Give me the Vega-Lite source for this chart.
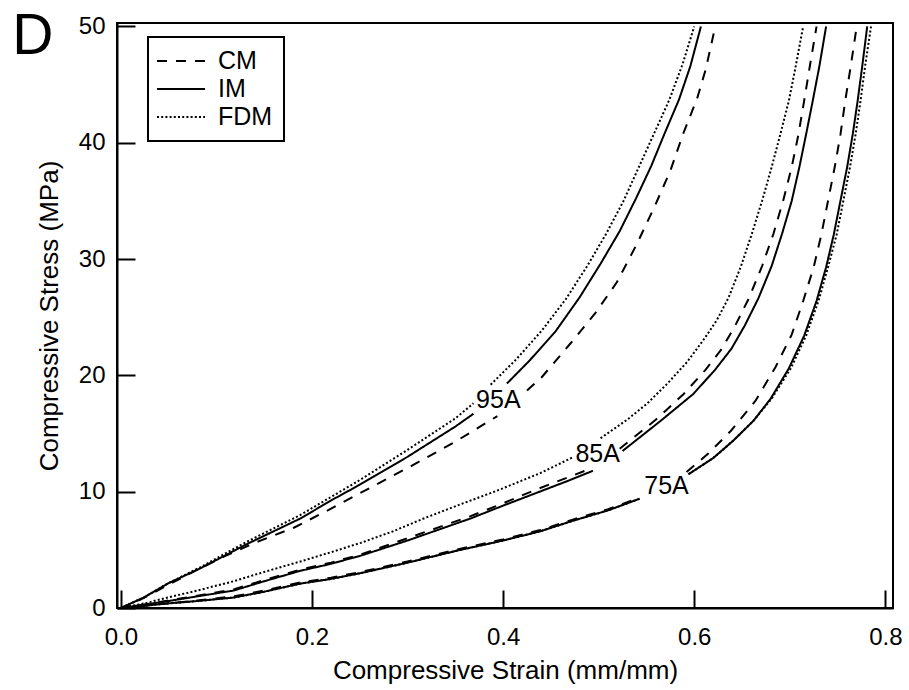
{
  "$schema": "https://vega.github.io/schema/vega-lite/v6.json",
  "width": 776,
  "height": 585,
  "autosize": {"type": "none"},
  "padding": {"left": 117, "top": 23, "right": 16, "bottom": 82},
  "background": "white",
  "config": {
    "font": "Liberation Sans",
    "view": {"stroke": "black", "strokeWidth": 2},
    "axis": {
      "domainColor": "black", "domainWidth": 2,
      "tickColor": "black", "tickWidth": 2, "tickSize": -18,
      "labelColor": "black", "labelFontSize": 24, "labelFont": "Liberation Sans",
      "titleColor": "black", "titleFontSize": 26, "titleFontWeight": "normal", "titleFont": "Liberation Sans",
      "grid": false, "labelFlush": false, "labelOverlap": false
    }
  },
  "datasets": {
    "curves": [
      {"g":"95A","m":"CM","s":"a","x":0,"y":0},{"g":"95A","m":"CM","s":"a","x":0.02,"y":0.7},{"g":"95A","m":"CM","s":"a","x":0.05,"y":2.0},{"g":"95A","m":"CM","s":"a","x":0.08,"y":3.3},{"g":"95A","m":"CM","s":"a","x":0.11,"y":4.5},{"g":"95A","m":"CM","s":"a","x":0.14,"y":5.6},{"g":"95A","m":"CM","s":"a","x":0.181,"y":6.9},{"g":"95A","m":"CM","s":"a","x":0.219,"y":8.5},{"g":"95A","m":"CM","s":"a","x":0.26,"y":10.3},{"g":"95A","m":"CM","s":"a","x":0.306,"y":12.3},{"g":"95A","m":"CM","s":"a","x":0.35,"y":14.3},{"g":"95A","m":"CM","s":"a","x":0.394,"y":16.5},
      {"g":"95A","m":"CM","s":"b","x":0.425,"y":18.7},{"g":"95A","m":"CM","s":"b","x":0.44,"y":19.8},{"g":"95A","m":"CM","s":"b","x":0.47,"y":22.7},{"g":"95A","m":"CM","s":"b","x":0.496,"y":25.3},{"g":"95A","m":"CM","s":"b","x":0.519,"y":28.0},{"g":"95A","m":"CM","s":"b","x":0.54,"y":31.3},{"g":"95A","m":"CM","s":"b","x":0.559,"y":34.6},{"g":"95A","m":"CM","s":"b","x":0.575,"y":37.6},{"g":"95A","m":"CM","s":"b","x":0.589,"y":40.9},{"g":"95A","m":"CM","s":"b","x":0.603,"y":43.8},{"g":"95A","m":"CM","s":"b","x":0.612,"y":46.3},{"g":"95A","m":"CM","s":"b","x":0.622,"y":50.0},
      {"g":"95A","m":"IM","s":"a","x":0,"y":0},{"g":"95A","m":"IM","s":"a","x":0.024,"y":0.9},{"g":"95A","m":"IM","s":"a","x":0.049,"y":2.1},{"g":"95A","m":"IM","s":"a","x":0.083,"y":3.4},{"g":"95A","m":"IM","s":"a","x":0.132,"y":5.5},{"g":"95A","m":"IM","s":"a","x":0.188,"y":7.7},{"g":"95A","m":"IM","s":"a","x":0.219,"y":9.2},{"g":"95A","m":"IM","s":"a","x":0.25,"y":10.6},{"g":"95A","m":"IM","s":"a","x":0.3,"y":13.0},{"g":"95A","m":"IM","s":"a","x":0.35,"y":15.6},{"g":"95A","m":"IM","s":"a","x":0.369,"y":16.7},
      {"g":"95A","m":"IM","s":"b","x":0.404,"y":19.3},{"g":"95A","m":"IM","s":"b","x":0.428,"y":21.3},{"g":"95A","m":"IM","s":"b","x":0.455,"y":23.8},{"g":"95A","m":"IM","s":"b","x":0.48,"y":26.7},{"g":"95A","m":"IM","s":"b","x":0.502,"y":29.6},{"g":"95A","m":"IM","s":"b","x":0.522,"y":32.4},{"g":"95A","m":"IM","s":"b","x":0.539,"y":35.2},{"g":"95A","m":"IM","s":"b","x":0.555,"y":38.0},{"g":"95A","m":"IM","s":"b","x":0.569,"y":40.8},{"g":"95A","m":"IM","s":"b","x":0.584,"y":43.7},{"g":"95A","m":"IM","s":"b","x":0.596,"y":46.6},{"g":"95A","m":"IM","s":"b","x":0.607,"y":50.0},
      {"g":"95A","m":"FDM","s":"a","x":0,"y":0},{"g":"95A","m":"FDM","s":"a","x":0.024,"y":0.9},{"g":"95A","m":"FDM","s":"a","x":0.049,"y":2.1},{"g":"95A","m":"FDM","s":"a","x":0.083,"y":3.5},{"g":"95A","m":"FDM","s":"a","x":0.132,"y":5.7},{"g":"95A","m":"FDM","s":"a","x":0.188,"y":8.0},{"g":"95A","m":"FDM","s":"a","x":0.219,"y":9.5},{"g":"95A","m":"FDM","s":"a","x":0.25,"y":11.0},{"g":"95A","m":"FDM","s":"a","x":0.3,"y":13.6},{"g":"95A","m":"FDM","s":"a","x":0.35,"y":16.3},{"g":"95A","m":"FDM","s":"a","x":0.369,"y":17.6},
      {"g":"95A","m":"FDM","s":"b","x":0.387,"y":19.2},{"g":"95A","m":"FDM","s":"b","x":0.414,"y":21.4},{"g":"95A","m":"FDM","s":"b","x":0.441,"y":23.9},{"g":"95A","m":"FDM","s":"b","x":0.466,"y":26.6},{"g":"95A","m":"FDM","s":"b","x":0.488,"y":29.4},{"g":"95A","m":"FDM","s":"b","x":0.508,"y":32.2},{"g":"95A","m":"FDM","s":"b","x":0.526,"y":35.0},{"g":"95A","m":"FDM","s":"b","x":0.542,"y":37.9},{"g":"95A","m":"FDM","s":"b","x":0.558,"y":40.8},{"g":"95A","m":"FDM","s":"b","x":0.574,"y":43.7},{"g":"95A","m":"FDM","s":"b","x":0.588,"y":46.8},{"g":"95A","m":"FDM","s":"b","x":0.6,"y":50.0},

      {"g":"85A","m":"CM","s":"a","x":0,"y":0},{"g":"85A","m":"CM","s":"a","x":0.025,"y":0.3},{"g":"85A","m":"CM","s":"a","x":0.05,"y":0.65},{"g":"85A","m":"CM","s":"a","x":0.08,"y":1.05},{"g":"85A","m":"CM","s":"a","x":0.118,"y":1.6},{"g":"85A","m":"CM","s":"a","x":0.15,"y":2.4},{"g":"85A","m":"CM","s":"a","x":0.188,"y":3.3},{"g":"85A","m":"CM","s":"a","x":0.22,"y":3.9},{"g":"85A","m":"CM","s":"a","x":0.251,"y":4.6},{"g":"85A","m":"CM","s":"a","x":0.3,"y":6.0},{"g":"85A","m":"CM","s":"a","x":0.366,"y":7.9},{"g":"85A","m":"CM","s":"a","x":0.4,"y":9.0},{"g":"85A","m":"CM","s":"a","x":0.435,"y":10.2},{"g":"85A","m":"CM","s":"a","x":0.47,"y":11.3},{"g":"85A","m":"CM","s":"a","x":0.492,"y":12.0},
      {"g":"85A","m":"CM","s":"b","x":0.522,"y":13.7},{"g":"85A","m":"CM","s":"b","x":0.56,"y":16.2},{"g":"85A","m":"CM","s":"b","x":0.589,"y":18.4},{"g":"85A","m":"CM","s":"b","x":0.612,"y":20.5},{"g":"85A","m":"CM","s":"b","x":0.629,"y":22.3},{"g":"85A","m":"CM","s":"b","x":0.643,"y":24.3},{"g":"85A","m":"CM","s":"b","x":0.657,"y":26.6},{"g":"85A","m":"CM","s":"b","x":0.671,"y":29.4},{"g":"85A","m":"CM","s":"b","x":0.683,"y":32.2},{"g":"85A","m":"CM","s":"b","x":0.693,"y":35.0},{"g":"85A","m":"CM","s":"b","x":0.702,"y":37.9},{"g":"85A","m":"CM","s":"b","x":0.709,"y":40.7},{"g":"85A","m":"CM","s":"b","x":0.715,"y":43.6},{"g":"85A","m":"CM","s":"b","x":0.721,"y":46.6},{"g":"85A","m":"CM","s":"b","x":0.728,"y":50.0},
      {"g":"85A","m":"IM","s":"a","x":0,"y":0},{"g":"85A","m":"IM","s":"a","x":0.025,"y":0.3},{"g":"85A","m":"IM","s":"a","x":0.05,"y":0.6},{"g":"85A","m":"IM","s":"a","x":0.08,"y":1.0},{"g":"85A","m":"IM","s":"a","x":0.118,"y":1.5},{"g":"85A","m":"IM","s":"a","x":0.15,"y":2.3},{"g":"85A","m":"IM","s":"a","x":0.188,"y":3.2},{"g":"85A","m":"IM","s":"a","x":0.22,"y":3.8},{"g":"85A","m":"IM","s":"a","x":0.251,"y":4.5},{"g":"85A","m":"IM","s":"a","x":0.3,"y":5.8},{"g":"85A","m":"IM","s":"a","x":0.366,"y":7.7},{"g":"85A","m":"IM","s":"a","x":0.4,"y":8.8},{"g":"85A","m":"IM","s":"a","x":0.435,"y":9.9},{"g":"85A","m":"IM","s":"a","x":0.47,"y":11.0},{"g":"85A","m":"IM","s":"a","x":0.494,"y":11.8},
      {"g":"85A","m":"IM","s":"b","x":0.525,"y":13.5},{"g":"85A","m":"IM","s":"b","x":0.565,"y":16.1},{"g":"85A","m":"IM","s":"b","x":0.599,"y":18.4},{"g":"85A","m":"IM","s":"b","x":0.622,"y":20.5},{"g":"85A","m":"IM","s":"b","x":0.639,"y":22.3},{"g":"85A","m":"IM","s":"b","x":0.653,"y":24.3},{"g":"85A","m":"IM","s":"b","x":0.667,"y":26.6},{"g":"85A","m":"IM","s":"b","x":0.681,"y":29.4},{"g":"85A","m":"IM","s":"b","x":0.692,"y":32.2},{"g":"85A","m":"IM","s":"b","x":0.702,"y":35.0},{"g":"85A","m":"IM","s":"b","x":0.71,"y":37.9},{"g":"85A","m":"IM","s":"b","x":0.717,"y":40.7},{"g":"85A","m":"IM","s":"b","x":0.724,"y":43.6},{"g":"85A","m":"IM","s":"b","x":0.731,"y":46.6},{"g":"85A","m":"IM","s":"b","x":0.738,"y":50.0},
      {"g":"85A","m":"FDM","s":"a","x":0,"y":0},{"g":"85A","m":"FDM","s":"a","x":0.025,"y":0.4},{"g":"85A","m":"FDM","s":"a","x":0.049,"y":0.9},{"g":"85A","m":"FDM","s":"a","x":0.08,"y":1.5},{"g":"85A","m":"FDM","s":"a","x":0.118,"y":2.3},{"g":"85A","m":"FDM","s":"a","x":0.15,"y":3.1},{"g":"85A","m":"FDM","s":"a","x":0.188,"y":4.0},{"g":"85A","m":"FDM","s":"a","x":0.22,"y":4.8},{"g":"85A","m":"FDM","s":"a","x":0.251,"y":5.6},{"g":"85A","m":"FDM","s":"a","x":0.285,"y":6.6},{"g":"85A","m":"FDM","s":"a","x":0.317,"y":7.7},{"g":"85A","m":"FDM","s":"a","x":0.355,"y":8.9},{"g":"85A","m":"FDM","s":"a","x":0.394,"y":10.1},{"g":"85A","m":"FDM","s":"a","x":0.439,"y":11.6},{"g":"85A","m":"FDM","s":"a","x":0.474,"y":13.0},
      {"g":"85A","m":"FDM","s":"b","x":0.502,"y":14.6},{"g":"85A","m":"FDM","s":"b","x":0.53,"y":16.2},{"g":"85A","m":"FDM","s":"b","x":0.551,"y":17.6},{"g":"85A","m":"FDM","s":"b","x":0.572,"y":19.3},{"g":"85A","m":"FDM","s":"b","x":0.593,"y":21.2},{"g":"85A","m":"FDM","s":"b","x":0.611,"y":23.2},{"g":"85A","m":"FDM","s":"b","x":0.624,"y":24.8},{"g":"85A","m":"FDM","s":"b","x":0.636,"y":26.7},{"g":"85A","m":"FDM","s":"b","x":0.649,"y":29.4},{"g":"85A","m":"FDM","s":"b","x":0.66,"y":32.1},{"g":"85A","m":"FDM","s":"b","x":0.671,"y":35.0},{"g":"85A","m":"FDM","s":"b","x":0.681,"y":37.9},{"g":"85A","m":"FDM","s":"b","x":0.69,"y":40.7},{"g":"85A","m":"FDM","s":"b","x":0.699,"y":43.6},{"g":"85A","m":"FDM","s":"b","x":0.706,"y":46.5},{"g":"85A","m":"FDM","s":"b","x":0.714,"y":50.0},

      {"g":"75A","m":"CM","s":"a","x":0,"y":0},{"g":"75A","m":"CM","s":"a","x":0.025,"y":0.2},{"g":"75A","m":"CM","s":"a","x":0.05,"y":0.4},{"g":"75A","m":"CM","s":"a","x":0.08,"y":0.65},{"g":"75A","m":"CM","s":"a","x":0.118,"y":1.0},{"g":"75A","m":"CM","s":"a","x":0.15,"y":1.5},{"g":"75A","m":"CM","s":"a","x":0.188,"y":2.2},{"g":"75A","m":"CM","s":"a","x":0.22,"y":2.6},{"g":"75A","m":"CM","s":"a","x":0.251,"y":3.1},{"g":"75A","m":"CM","s":"a","x":0.3,"y":4.0},{"g":"75A","m":"CM","s":"a","x":0.35,"y":5.0},{"g":"75A","m":"CM","s":"a","x":0.4,"y":5.9},{"g":"75A","m":"CM","s":"a","x":0.439,"y":6.7},{"g":"75A","m":"CM","s":"a","x":0.473,"y":7.6},{"g":"75A","m":"CM","s":"a","x":0.51,"y":8.5},{"g":"75A","m":"CM","s":"a","x":0.543,"y":9.5},
      {"g":"75A","m":"CM","s":"b","x":0.592,"y":11.7},{"g":"75A","m":"CM","s":"b","x":0.615,"y":13.3},{"g":"75A","m":"CM","s":"b","x":0.638,"y":15.2},{"g":"75A","m":"CM","s":"b","x":0.664,"y":17.8},{"g":"75A","m":"CM","s":"b","x":0.685,"y":20.7},{"g":"75A","m":"CM","s":"b","x":0.702,"y":23.5},{"g":"75A","m":"CM","s":"b","x":0.714,"y":26.4},{"g":"75A","m":"CM","s":"b","x":0.725,"y":29.3},{"g":"75A","m":"CM","s":"b","x":0.733,"y":32.1},{"g":"75A","m":"CM","s":"b","x":0.74,"y":35.0},{"g":"75A","m":"CM","s":"b","x":0.747,"y":37.9},{"g":"75A","m":"CM","s":"b","x":0.753,"y":40.7},{"g":"75A","m":"CM","s":"b","x":0.758,"y":43.6},{"g":"75A","m":"CM","s":"b","x":0.764,"y":46.7},{"g":"75A","m":"CM","s":"b","x":0.77,"y":50.0},
      {"g":"75A","m":"IM","s":"a","x":0,"y":0},{"g":"75A","m":"IM","s":"a","x":0.025,"y":0.2},{"g":"75A","m":"IM","s":"a","x":0.05,"y":0.4},{"g":"75A","m":"IM","s":"a","x":0.08,"y":0.6},{"g":"75A","m":"IM","s":"a","x":0.118,"y":0.9},{"g":"75A","m":"IM","s":"a","x":0.15,"y":1.4},{"g":"75A","m":"IM","s":"a","x":0.188,"y":2.1},{"g":"75A","m":"IM","s":"a","x":0.22,"y":2.5},{"g":"75A","m":"IM","s":"a","x":0.251,"y":3.0},{"g":"75A","m":"IM","s":"a","x":0.3,"y":3.9},{"g":"75A","m":"IM","s":"a","x":0.35,"y":4.9},{"g":"75A","m":"IM","s":"a","x":0.4,"y":5.8},{"g":"75A","m":"IM","s":"a","x":0.439,"y":6.6},{"g":"75A","m":"IM","s":"a","x":0.473,"y":7.5},{"g":"75A","m":"IM","s":"a","x":0.51,"y":8.4},{"g":"75A","m":"IM","s":"a","x":0.543,"y":9.4},
      {"g":"75A","m":"IM","s":"b","x":0.594,"y":11.5},{"g":"75A","m":"IM","s":"b","x":0.62,"y":12.9},{"g":"75A","m":"IM","s":"b","x":0.641,"y":14.4},{"g":"75A","m":"IM","s":"b","x":0.662,"y":16.1},{"g":"75A","m":"IM","s":"b","x":0.68,"y":18.0},{"g":"75A","m":"IM","s":"b","x":0.699,"y":20.6},{"g":"75A","m":"IM","s":"b","x":0.715,"y":23.4},{"g":"75A","m":"IM","s":"b","x":0.728,"y":26.4},{"g":"75A","m":"IM","s":"b","x":0.738,"y":29.3},{"g":"75A","m":"IM","s":"b","x":0.746,"y":32.1},{"g":"75A","m":"IM","s":"b","x":0.753,"y":35.0},{"g":"75A","m":"IM","s":"b","x":0.76,"y":37.9},{"g":"75A","m":"IM","s":"b","x":0.766,"y":40.8},{"g":"75A","m":"IM","s":"b","x":0.771,"y":43.6},{"g":"75A","m":"IM","s":"b","x":0.776,"y":46.7},{"g":"75A","m":"IM","s":"b","x":0.781,"y":50.0},
      {"g":"75A","m":"FDM","s":"a","x":0,"y":0},{"g":"75A","m":"FDM","s":"a","x":0.025,"y":0.2},{"g":"75A","m":"FDM","s":"a","x":0.05,"y":0.4},{"g":"75A","m":"FDM","s":"a","x":0.08,"y":0.6},{"g":"75A","m":"FDM","s":"a","x":0.118,"y":0.9},{"g":"75A","m":"FDM","s":"a","x":0.15,"y":1.4},{"g":"75A","m":"FDM","s":"a","x":0.188,"y":2.1},{"g":"75A","m":"FDM","s":"a","x":0.22,"y":2.5},{"g":"75A","m":"FDM","s":"a","x":0.251,"y":3.0},{"g":"75A","m":"FDM","s":"a","x":0.3,"y":3.9},{"g":"75A","m":"FDM","s":"a","x":0.35,"y":4.9},{"g":"75A","m":"FDM","s":"a","x":0.4,"y":5.8},{"g":"75A","m":"FDM","s":"a","x":0.439,"y":6.6},{"g":"75A","m":"FDM","s":"a","x":0.473,"y":7.5},{"g":"75A","m":"FDM","s":"a","x":0.51,"y":8.4},{"g":"75A","m":"FDM","s":"a","x":0.543,"y":9.4},
      {"g":"75A","m":"FDM","s":"b","x":0.594,"y":11.5},{"g":"75A","m":"FDM","s":"b","x":0.62,"y":12.9},{"g":"75A","m":"FDM","s":"b","x":0.641,"y":14.4},{"g":"75A","m":"FDM","s":"b","x":0.662,"y":16.1},{"g":"75A","m":"FDM","s":"b","x":0.681,"y":18.0},{"g":"75A","m":"FDM","s":"b","x":0.701,"y":20.6},{"g":"75A","m":"FDM","s":"b","x":0.717,"y":23.4},{"g":"75A","m":"FDM","s":"b","x":0.73,"y":26.4},{"g":"75A","m":"FDM","s":"b","x":0.74,"y":29.3},{"g":"75A","m":"FDM","s":"b","x":0.749,"y":32.1},{"g":"75A","m":"FDM","s":"b","x":0.756,"y":35.0},{"g":"75A","m":"FDM","s":"b","x":0.763,"y":37.9},{"g":"75A","m":"FDM","s":"b","x":0.769,"y":40.8},{"g":"75A","m":"FDM","s":"b","x":0.774,"y":43.6},{"g":"75A","m":"FDM","s":"b","x":0.779,"y":46.7},{"g":"75A","m":"FDM","s":"b","x":0.785,"y":50.0}
    ],
    "labels": [
      {"label":"95A","x":0.395,"y":17.9},
      {"label":"85A","x":0.499,"y":13.2},
      {"label":"75A","x":0.571,"y":10.5}
    ],
    "panel": [
      {"label":"D","x":-0.092,"y":47.6}
    ]
  },
  "layer": [
    {
      "data": {"name": "curves"},
      "mark": {"type": "line", "strokeWidth": 2, "color": "black", "clip": true},
      "encoding": {
        "x": {"field": "x", "type": "quantitative",
              "scale": {"domain": [-0.004, 0.808], "nice": false, "zero": false},
              "axis": {"values": [0, 0.2, 0.4, 0.6, 0.8], "format": ".1f", "title": "Compressive Strain (mm/mm)", "labelPadding": 35, "titlePadding": 8}},
        "y": {"field": "y", "type": "quantitative",
              "scale": {"domain": [0, 50.3], "nice": false, "zero": false},
              "axis": {"values": [0, 10, 20, 30, 40, 50], "format": "d", "title": "Compressive Stress (MPa)", "labelPadding": 30, "titlePadding": 16}},
        "detail": [{"field": "g", "type": "nominal"}, {"field": "s", "type": "nominal"}],
        "strokeDash": {"field": "m", "type": "nominal",
          "scale": {"domain": ["CM", "IM", "FDM"], "range": [[10, 9], [1, 0], [2, 2.2]]},
          "legend": {"orient": "none", "legendX": 31, "legendY": 14, "title": null,
                     "symbolType": "M-2,0H2", "symbolSize": 576, "symbolStrokeWidth": 2, "symbolStrokeColor": "black",
                     "symbolFillColor": "transparent", "symbolOffset": 9,
                     "labelFontSize": 25, "labelColor": "black", "labelFont": "Liberation Sans", "labelOffset": 24,
                     "padding": 11, "strokeColor": "black", "rowPadding": 2, "fillColor": "white",
                     "encode": {"legend": {"update": {"strokeWidth": {"value": 2}}}}}
        }
      }
    },
    {
      "data": {"name": "labels"},
      "mark": {"type": "text", "fontSize": 25, "color": "black", "font": "Liberation Sans", "align": "center", "baseline": "middle"},
      "encoding": {
        "x": {"field": "x", "type": "quantitative"},
        "y": {"field": "y", "type": "quantitative"},
        "text": {"field": "label", "type": "nominal"}
      }
    },
    {
      "data": {"name": "panel"},
      "mark": {"type": "text", "fontSize": 57, "color": "black", "font": "Liberation Sans", "align": "center", "baseline": "alphabetic", "clip": false},
      "encoding": {
        "x": {"field": "x", "type": "quantitative"},
        "y": {"field": "y", "type": "quantitative"},
        "text": {"field": "label", "type": "nominal"}
      }
    }
  ]
}
